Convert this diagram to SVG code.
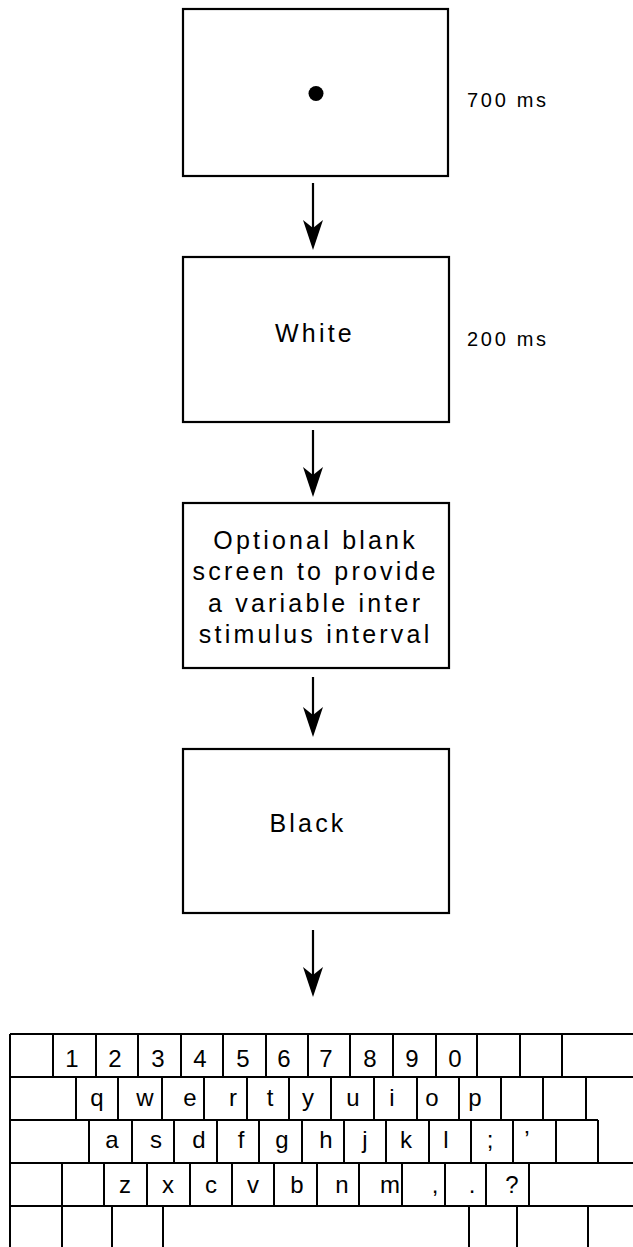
<svg xmlns="http://www.w3.org/2000/svg" width="633" height="1247" viewBox="0 0 633 1247">
<style>
.box{fill:#fff;stroke:#000;stroke-width:2.2}
.t{font-family:"Liberation Sans",Arial,Helvetica,sans-serif;font-size:25px;letter-spacing:3.2px;fill:#000;text-anchor:middle}
.ms{font-family:"Liberation Sans",Arial,Helvetica,sans-serif;font-size:20px;letter-spacing:2.7px;fill:#000}
.k{font-family:"Liberation Sans",Arial,Helvetica,sans-serif;font-size:24px;fill:#000;text-anchor:middle}
.kl{stroke:#000;stroke-width:2;fill:none}
.c{stroke:#000;stroke-width:2.2;fill:none;marker-end:url(#ah)}
</style>
<defs>
<marker id="ah" viewBox="0 0 30 20" refX="20" refY="10" markerWidth="30" markerHeight="20" markerUnits="userSpaceOnUse" orient="auto">
<path d="M0,0 L30,10 L0,20 L8,10 Z" fill="#000"/>
</marker>
</defs>
<rect width="633" height="1247" fill="#fff"/>
<g id="connectors">
<line class="c" x1="313" y1="183" x2="313" y2="240"/>
<line class="c" x1="313" y1="430" x2="313" y2="487"/>
<line class="c" x1="313" y1="677" x2="313" y2="727"/>
<line class="c" x1="313" y1="930" x2="313" y2="987"/>
</g>
<g id="node-fixation">
<rect class="box" x="183" y="9" width="265" height="167"/>
<circle cx="316" cy="93.5" r="7.5" fill="#000"/>
</g>
<text id="label-700" class="ms" x="467" y="107">700 ms</text>
<g id="node-white">
<rect class="box" x="183" y="257" width="266" height="165"/>
<text class="t" x="315" y="342">White</text>
</g>
<text id="label-200" class="ms" x="467" y="346">200 ms</text>
<g id="node-blank">
<rect class="box" x="183" y="503" width="266" height="165"/>
<text class="t" x="315.6" y="549">Optional blank</text>
<text class="t" x="315.6" y="580">screen to provide</text>
<text class="t" x="315.6" y="612">a variable inter</text>
<text class="t" x="315.6" y="643">stimulus interval</text>
</g>
<g id="node-black">
<rect class="box" x="183" y="749" width="266" height="164"/>
<text class="t" x="308" y="832">Black</text>
</g>
<g id="node-keyboard">
<path class="kl" d="M10,1034 H633 M10,1077 H633 M10,1120 H598 M10,1163 H633 M10,1206 H633 M10,1034 V1247"/>
<path class="kl" d="M53,1034V1077 M96,1034V1077 M138,1034V1077 M181,1034V1077 M223,1034V1077 M266,1034V1077 M308,1034V1077 M350,1034V1077 M393,1034V1077 M436,1034V1077 M477,1034V1077 M520,1034V1077 M562,1034V1077"/>
<path class="kl" d="M76,1077V1120 M118,1077V1120 M162,1077V1120 M204,1077V1120 M247,1077V1120 M289,1077V1120 M331,1077V1120 M374,1077V1120 M417,1077V1120 M459,1077V1120 M501,1077V1120 M543,1077V1120 M586,1077V1120"/>
<path class="kl" d="M89,1120V1163 M132,1120V1163 M174,1120V1163 M217,1120V1163 M259,1120V1163 M302,1120V1163 M344,1120V1163 M386,1120V1163 M429,1120V1163 M471,1120V1163 M513,1120V1163 M556,1120V1163 M598,1120V1163"/>
<path class="kl" d="M62,1163V1206 M104,1163V1206 M147,1163V1206 M190,1163V1206 M232,1163V1206 M274,1163V1206 M317,1163V1206 M359,1163V1206 M402,1163V1206 M445,1163V1206 M486,1163V1206 M529,1163V1206"/>
<path class="kl" d="M62,1206V1247 M112,1206V1247 M163,1206V1247 M469,1206V1247 M517,1206V1247 M588,1206V1247"/>
<text class="k" x="72" y="1067">1</text>
<text class="k" x="115" y="1067">2</text>
<text class="k" x="158" y="1067">3</text>
<text class="k" x="200" y="1067">4</text>
<text class="k" x="243" y="1067">5</text>
<text class="k" x="284" y="1067">6</text>
<text class="k" x="326" y="1067">7</text>
<text class="k" x="370" y="1067">8</text>
<text class="k" x="412" y="1067">9</text>
<text class="k" x="455" y="1067">0</text>
<text class="k" x="97" y="1106">q</text>
<text class="k" x="145" y="1106">w</text>
<text class="k" x="190" y="1106">e</text>
<text class="k" x="233" y="1106">r</text>
<text class="k" x="270" y="1106">t</text>
<text class="k" x="308" y="1106">y</text>
<text class="k" x="353" y="1106">u</text>
<text class="k" x="392" y="1106">i</text>
<text class="k" x="432" y="1106">o</text>
<text class="k" x="475" y="1106">p</text>
<text class="k" x="112" y="1148">a</text>
<text class="k" x="156" y="1148">s</text>
<text class="k" x="199" y="1148">d</text>
<text class="k" x="241" y="1148">f</text>
<text class="k" x="282" y="1148">g</text>
<text class="k" x="326" y="1148">h</text>
<text class="k" x="365" y="1148">j</text>
<text class="k" x="406" y="1148">k</text>
<text class="k" x="446" y="1148">l</text>
<text class="k" x="490" y="1148">;</text>
<text class="k" x="527" y="1148">’</text>
<text class="k" x="125" y="1193">z</text>
<text class="k" x="168" y="1193">x</text>
<text class="k" x="211" y="1193">c</text>
<text class="k" x="253" y="1193">v</text>
<text class="k" x="297" y="1193">b</text>
<text class="k" x="342" y="1193">n</text>
<text class="k" x="390" y="1193">m</text>
<text class="k" x="435" y="1193">,</text>
<text class="k" x="472" y="1193">.</text>
<text class="k" x="512" y="1193">?</text>
</g>
</svg>
